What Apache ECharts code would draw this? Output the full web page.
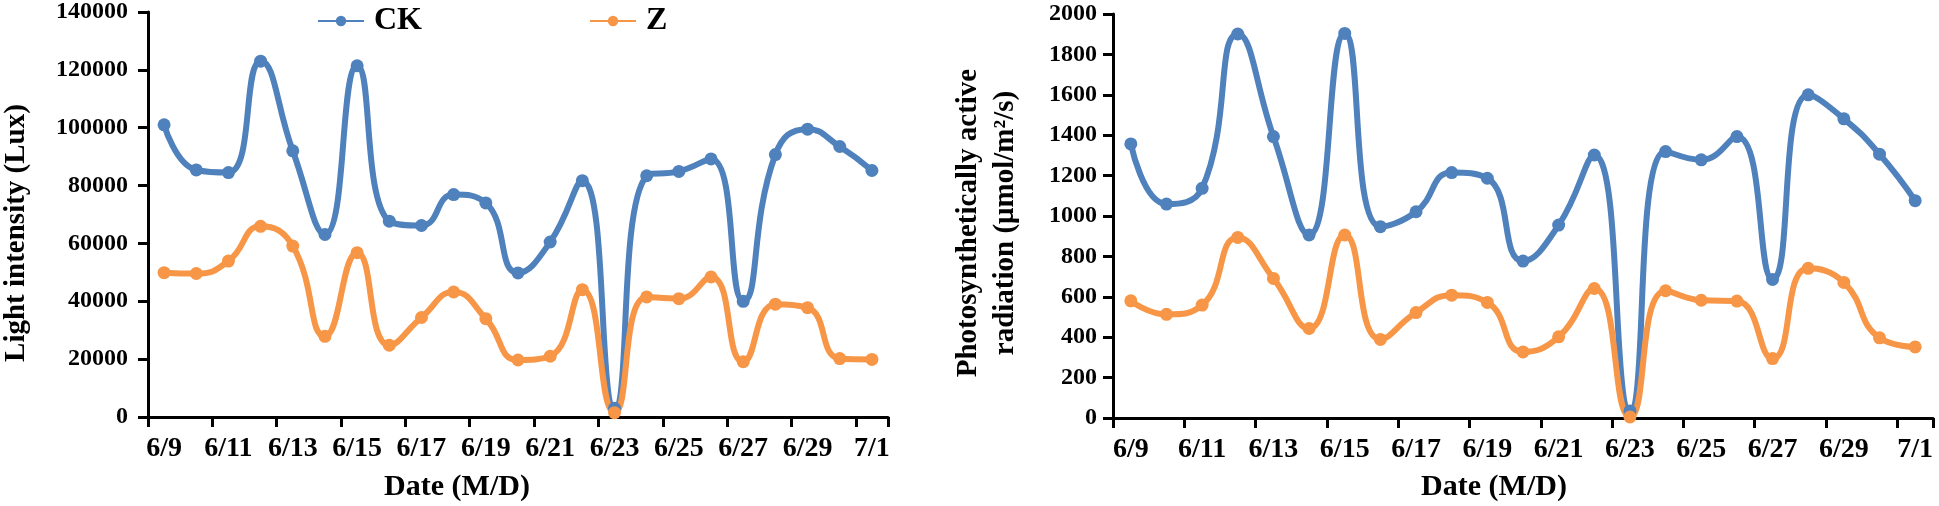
<!DOCTYPE html>
<html>
<head>
<meta charset="utf-8">
<style>
  html, body { margin: 0; padding: 0; background: #fff; }
  #chart { width: 1939px; height: 506px; }
</style>
<script src="https://cdn.jsdelivr.net/npm/echarts@6/dist/echarts.min.js"></script>
</head>
<body>
<div id="chart"></div>
<script>
// dates on the x axis
var dates = ['6/9', '6/10', '6/11', '6/12', '6/13', '6/14', '6/15', '6/16', '6/17', '6/18', '6/19', '6/20',
  '6/21', '6/22', '6/23', '6/24', '6/25', '6/26', '6/27', '6/28', '6/29', '6/30', '7/1'];

// light intensity (Lux)
var luxCK = [101000, 85400, 84500, 123000, 92000, 63100, 121400, 67700, 66200, 76900, 74000, 49800,
  60500, 81700, 3000, 83400, 84900, 89200, 40000, 90700, 99500, 93500, 85200];
var luxZ = [49900, 49600, 53900, 65900, 59100, 27900, 56800, 24800, 34400, 43200, 34000, 19700,
  21000, 44000, 1500, 41500, 40900, 48400, 19100, 39000, 37800, 20200, 19900];

// photosynthetically active radiation
var parCK = [1357, 1059, 1137, 1901, 1393, 906, 1904, 947, 1021, 1215, 1187, 777,
  955, 1302, 35, 1319, 1278, 1393, 686, 1600, 1481, 1306, 1076];
var parZ = [580, 513, 559, 894, 691, 443, 906, 389, 522, 608, 572, 327,
  402, 641, 5, 630, 583, 579, 294, 741, 671, 397, 352];

var FONT = "'Liberation Serif', 'Times New Roman', serif";
var BLUE = '#4F81BD';
var ORANGE = '#F79646';

function xAxisOf(idx) {
  return {
    type: 'category',
    gridIndex: idx,
    data: dates,
    boundaryGap: true,
    axisLine: { show: true, onZero: false, lineStyle: { color: '#000000', width: 3 } },
    axisTick: { show: true, interval: 1, length: 10, lineStyle: { color: '#000000', width: 3 } },
    axisLabel: { interval: 1, margin: 18, color: '#000', fontFamily: FONT, fontWeight: 'bold', fontSize: 28 },
    splitLine: { show: false }
  };
}

function yAxisOf(idx, max, step, margin) {
  return {
    type: 'value',
    gridIndex: idx,
    min: 0,
    max: max,
    interval: step,
    axisLine: { show: true, lineStyle: { color: '#000000', width: 3 } },
    axisTick: { show: true, length: 10, lineStyle: { color: '#000000', width: 3 } },
    axisLabel: {
      margin: margin, color: '#000', fontFamily: FONT, fontWeight: 'bold', fontSize: 24,
      formatter: function (v) { return String(v); }
    },
    splitLine: { show: false }
  };
}

function line(name, idx, data, color) {
  return {
    name: name,
    type: 'line',
    xAxisIndex: idx,
    yAxisIndex: idx,
    data: data,
    smooth: 0.5,
    symbol: 'circle',
    symbolSize: 13,
    itemStyle: { color: color },
    lineStyle: { color: color, width: 6 }
  };
}

function label(text, x, y, size, rot) {
  return {
    type: 'text',
    x: x,
    y: y,
    rotation: rot || 0,
    style: {
      text: text,
      font: 'bold ' + size + 'px ' + FONT,
      fill: '#000',
      align: 'center',
      verticalAlign: 'middle',
      lineHeight: 37
    }
  };
}

var chart = echarts.init(document.getElementById('chart'));
chart.setOption({
  animation: false,
  backgroundColor: '#fff',
  legend: {
    data: ['CK', 'Z'],
    left: 312,
    top: 0,
    itemWidth: 46,
    itemHeight: 13,
    itemGap: 167,
    textStyle: { color: '#000', fontFamily: FONT, fontWeight: 'bold', fontSize: 32, padding: [0, 0, 0, 5] }
  },
  grid: [
    { left: 148, top: 11, width: 740, height: 406 },
    { left: 1113, top: 14, width: 820, height: 404 }
  ],
  xAxis: [xAxisOf(0), xAxisOf(1)],
  yAxis: [yAxisOf(0, 140000, 20000, 20), yAxisOf(1, 2000, 200, 16)],
  series: [
    line('CK', 0, luxCK, BLUE),
    line('Z', 0, luxZ, ORANGE),
    line('CK', 1, parCK, BLUE),
    line('Z', 1, parZ, ORANGE)
  ],
  graphic: [
    label('Light intensity (Lux)', 17, 233, 29, Math.PI / 2),
    label('Photosynthetically active\nradiation (\u03bcmol/m\u00b2/s)', 987, 223, 29, Math.PI / 2),
    label('Date (M/D)', 457, 487, 30),
    label('Date (M/D)', 1494, 487, 30)
  ]
});
</script>
</body>
</html>
